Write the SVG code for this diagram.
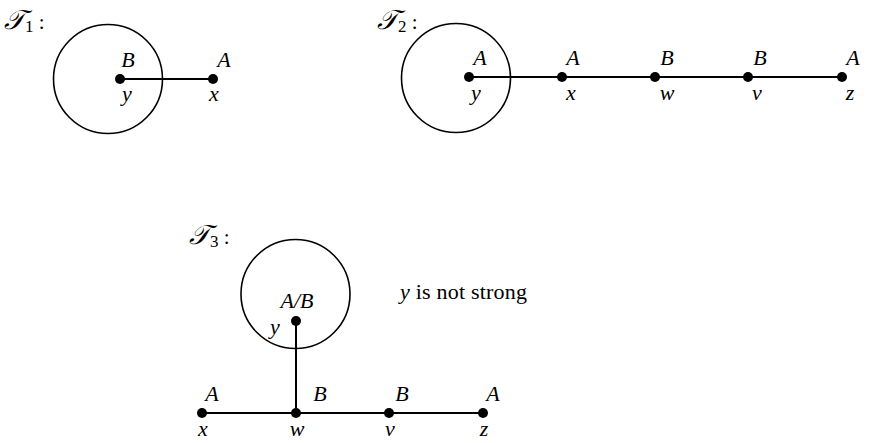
<svg xmlns="http://www.w3.org/2000/svg" width="871" height="443" viewBox="0 0 871 443">
<style>
.m{font-style:italic;text-anchor:middle}
.t{font-style:italic;font-size:27px}
.s{font-size:17px;font-style:normal}
.c{fill:none;stroke:#000;stroke-width:1.6}
.e{stroke:#000;stroke-width:2}
.d{fill:#000}
</style>
<rect width="871" height="443" fill="#fff"/>
<g font-family="Liberation Serif, DejaVu Serif, serif" font-size="22" fill="#000">
<g id="titles">
<text x="4" y="29" class="t">𝒯<tspan class="s" dy="3">1</tspan><tspan dy="-3" font-style="normal" font-size="21"> :</tspan></text>
<text x="377" y="29" class="t">𝒯<tspan class="s" dy="3">2</tspan><tspan dy="-3" font-style="normal" font-size="21"> :</tspan></text>
<text x="189" y="244" class="t">𝒯<tspan class="s" dy="3">3</tspan><tspan dy="-3" font-style="normal" font-size="21"> :</tspan></text>
<text x="400" y="299" font-size="22" textLength="127"><tspan font-style="italic">y</tspan> is not strong</text>
</g>
<g id="connectors">
<line class="e" x1="120" y1="79" x2="213" y2="79"/>
<line class="e" x1="469" y1="77" x2="842" y2="77"/>
<line class="e" x1="296" y1="321" x2="296" y2="413"/>
<line class="e" x1="202" y1="413" x2="483" y2="413"/>
</g>
<g id="T1-circle"><circle class="c" cx="108" cy="79" r="54.5"/></g>
<g id="T1-y"><circle class="d" cx="120" cy="79" r="5"/><text class="m" x="128" y="67">B</text><text class="m" x="127" y="101">y</text></g>
<g id="T1-x"><circle class="d" cx="213" cy="79" r="5"/><text class="m" x="224" y="67">A</text><text class="m" x="214" y="101">x</text></g>
<g id="T2-circle"><circle class="c" cx="456" cy="78" r="54.5"/></g>
<g id="T2-y"><circle class="d" cx="469" cy="77" r="5"/><text class="m" x="480" y="65">A</text><text class="m" x="476" y="100">y</text></g>
<g id="T2-x"><circle class="d" cx="562" cy="77" r="5"/><text class="m" x="573" y="65">A</text><text class="m" x="571" y="100">x</text></g>
<g id="T2-w"><circle class="d" cx="655" cy="77" r="5"/><text class="m" x="667" y="65">B</text><text class="m" x="667" y="100">w</text></g>
<g id="T2-v"><circle class="d" cx="748" cy="77" r="5"/><text class="m" x="760" y="65">B</text><text class="m" x="757" y="100">v</text></g>
<g id="T2-z"><circle class="d" cx="842" cy="77" r="5"/><text class="m" x="853" y="65">A</text><text class="m" x="850" y="100">z</text></g>
<g id="T3-circle"><circle class="c" cx="295.5" cy="294" r="54.5"/></g>
<g id="T3-y"><circle class="d" cx="296" cy="321" r="5"/><text class="m" x="297" y="308">A/B</text><text class="m" x="275" y="334">y</text></g>
<g id="T3-x"><circle class="d" cx="202" cy="413" r="5"/><text class="m" x="212" y="401">A</text><text class="m" x="203" y="436">x</text></g>
<g id="T3-w"><circle class="d" cx="296" cy="413" r="5"/><text class="m" x="320" y="401">B</text><text class="m" x="297" y="436">w</text></g>
<g id="T3-v"><circle class="d" cx="389" cy="413" r="5"/><text class="m" x="402" y="401">B</text><text class="m" x="390" y="436">v</text></g>
<g id="T3-z"><circle class="d" cx="483" cy="413" r="5"/><text class="m" x="493" y="401">A</text><text class="m" x="484" y="436">z</text></g>
</g>
</svg>
